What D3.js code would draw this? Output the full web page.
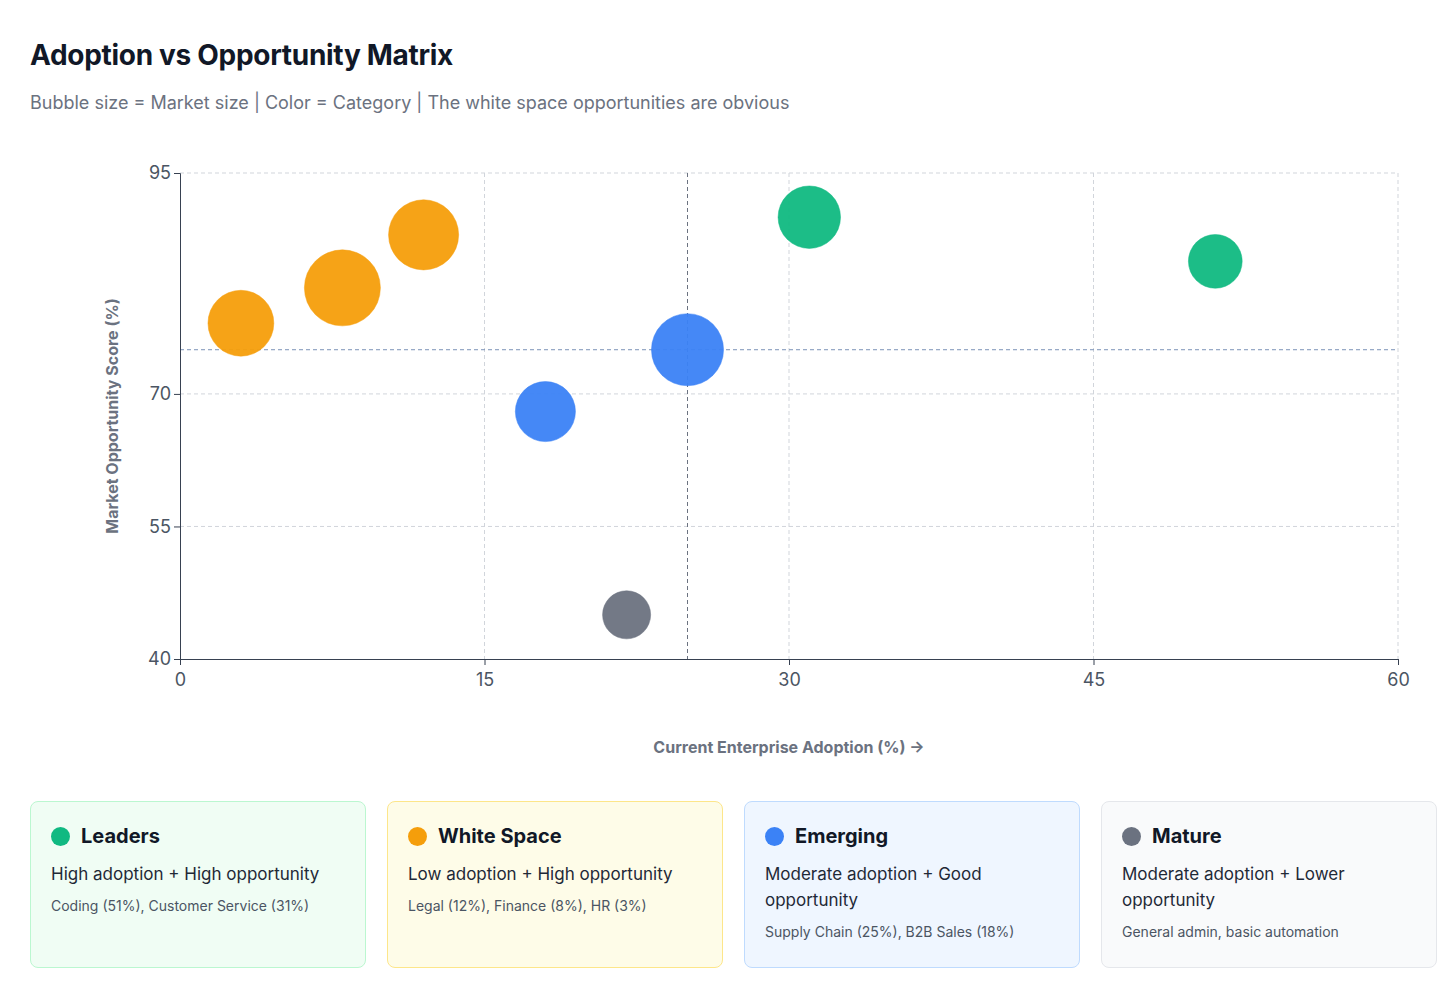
<!DOCTYPE html>
<html><head><meta charset="utf-8">
<script src="https://cdn.jsdelivr.net/npm/d3@7"></script>
<style>
body{margin:0;background:#fff;font-family:Inter,"Noto Sans",sans-serif;color:#111827;}
#wrap{position:relative;width:1456px;height:995px;}
h1{position:absolute;left:30px;top:38px;margin:0;font-size:28px;font-weight:700;color:#111827;letter-spacing:-0.3px}
.sub{position:absolute;left:30px;top:92px;font-size:18px;color:#6b7280}
svg{position:absolute;left:0;top:0}
.cards{position:absolute;left:30px;top:801px;display:flex;gap:21px}
.card{box-sizing:border-box;width:336px;height:167px;border:1px solid;border-radius:8px;padding:22px 20px}
.ct{display:flex;align-items:center;font-size:20px;font-weight:700;color:#111827}
.dot{width:19px;height:19px;border-radius:50%;margin-right:11px}
.cd{font-size:17px;color:#1f2937;margin-top:13px;line-height:26px}
.ce{font-size:14px;color:#4b5563;margin-top:10px}
</style></head><body>
<div id="wrap">
<h1>Adoption vs Opportunity Matrix</h1>
<div class="sub">Bubble size = Market size | Color = Category | The white space opportunities are obvious</div>
<svg id="chart" width="1456" height="995"></svg>
<div class="cards" id="cards"></div>
</div>
<script>
const names=["HR","Finance","Legal","Customer Service","Coding","Supply Chain","B2B Sales","General admin"];
const adoption=[3,8,12,31,51,25,18,22];
const opportunity=[78,82,88,90,85,75,68,45];
const marketSize=[30,40,34,27,20,36,25,16];
const category=["White Space","White Space","White Space","Leaders","Leaders","Emerging","Emerging","Mature"];
const xTicks=[0,15,30,45,60];
const yTicks=[40,55,70,95];
const catNames=["Leaders","White Space","Emerging","Mature"];
const catColors=["#10b981","#f59e0b","#3b82f6","#6b7280"];
const catBg=["#f0fdf4","#fefce8","#eff6ff","#f9fafb"];
const catBorder=["#bbf7d0","#fde68a","#bfdbfe","#e5e7eb"];
const catDesc=["High adoption + High opportunity","Low adoption + High opportunity","Moderate adoption + Good opportunity","Moderate adoption + Lower opportunity"];
const catEx=["Coding (51%), Customer Service (31%)","Legal (12%), Finance (8%), HR (3%)","Supply Chain (25%), B2B Sales (18%)","General admin, basic automation"];

const svg=d3.select("#chart");
const x=d3.scaleLinear().domain([0,60]).range([180,1398]);
const y=d3.scaleLinear().domain([40,95]).range([659,173]);
const r=d3.scaleSqrt().domain([0,40]).range([0,38]);
const color=d3.scaleOrdinal().domain(catNames).range(catColors);

const g=svg.append("g");
g.selectAll(".vg").data(xTicks.slice(1)).join("line").attr("x1",d=>x(d)).attr("x2",d=>x(d)).attr("y1",173).attr("y2",659).attr("stroke","#d1d5db").attr("stroke-dasharray","4,3");
g.selectAll(".hg").data(yTicks.slice(1)).join("line").attr("x1",180).attr("x2",1398).attr("y1",d=>y(d)).attr("y2",d=>y(d)).attr("stroke","#d1d5db").attr("stroke-dasharray","4,3");
g.append("line").attr("x1",x(25)).attr("x2",x(25)).attr("y1",173).attr("y2",659).attr("stroke","#6b7280").attr("stroke-dasharray","4,3");
g.append("line").attr("x1",180).attr("x2",1398).attr("y1",y(75)).attr("y2",y(75)).attr("stroke","#7c93b8").attr("stroke-dasharray","4,3");

const xa=svg.append("g").attr("transform","translate(0,659)").call(d3.axisBottom(x).tickValues(xTicks).tickSize(6));
const ya=svg.append("g").attr("transform","translate(180,0)").call(d3.axisLeft(y).tickValues(yTicks).tickSize(6));
[xa,ya].forEach(a=>{a.selectAll("path,line").attr("stroke","#374151");a.selectAll("text").attr("font-size",18).attr("fill","#4b5563").attr("font-family","Inter,sans-serif");});
xa.selectAll("text").attr("dy","1em");

svg.selectAll(".b").data(names.map((n,i)=>i)).join("circle")
 .attr("cx",i=>x(adoption[i])).attr("cy",i=>y(opportunity[i])).attr("r",i=>r(marketSize[i]))
 .attr("fill",i=>color(category[i])).attr("fill-opacity",0.95).attr("stroke",i=>color(category[i])).attr("stroke-opacity",0.5);

svg.append("text").attr("transform","translate(118,416) rotate(-90)").attr("text-anchor","middle").attr("font-size",16).attr("font-weight",700).attr("fill","#6b7280").text("Market Opportunity Score (%)");
svg.append("text").attr("x",789).attr("y",753).attr("text-anchor","middle").attr("font-size",16).attr("font-weight",700).attr("fill","#6b7280").text("Current Enterprise Adoption (%) →");

const cards=d3.select("#cards").selectAll(".card").data(catNames.map((c,i)=>i)).join("div").attr("class","card")
 .style("background",i=>catBg[i]).style("border-color",i=>catBorder[i]);
const t=cards.append("div").attr("class","ct");
t.append("div").attr("class","dot").style("background",i=>catColors[i]);
t.append("span").text(i=>catNames[i]);
cards.append("div").attr("class","cd").text(i=>catDesc[i]);
cards.append("div").attr("class","ce").text(i=>catEx[i]);
</script>
</body></html>
